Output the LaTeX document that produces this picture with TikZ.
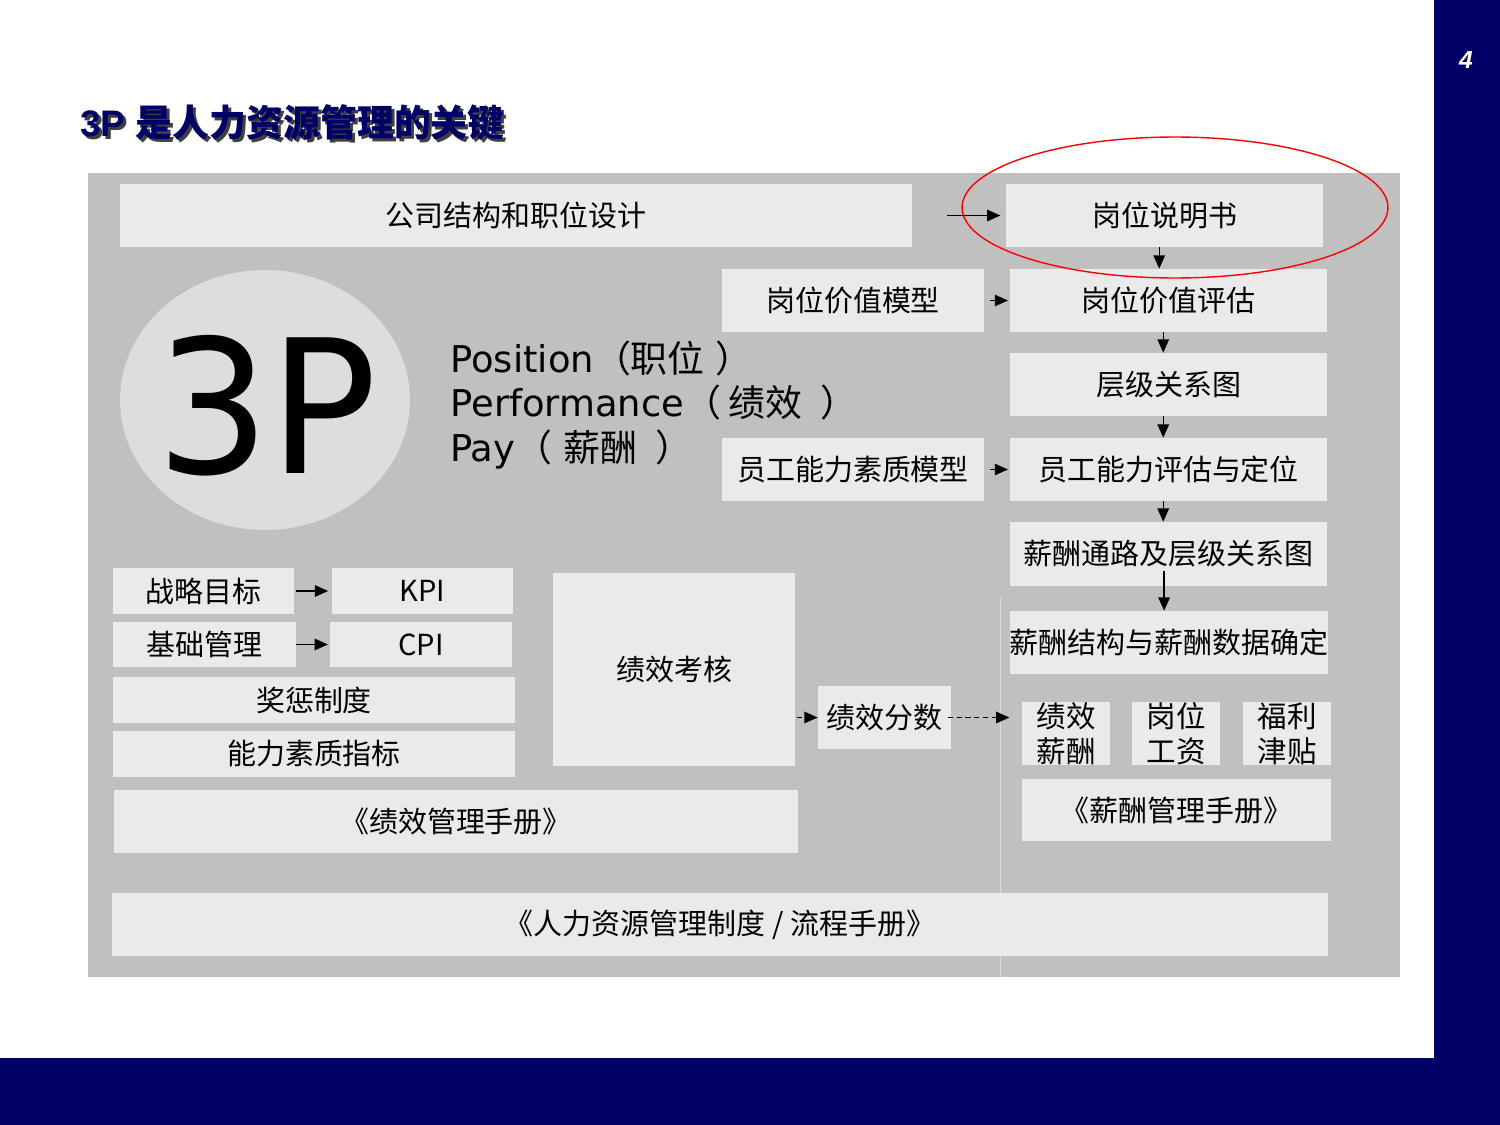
\documentclass[tikz,border=0pt]{standalone}
\usepackage{fontspec}
\setmainfont{DejaVu Sans}
\newfontfamily\cjk{Noto Sans CJK SC}
\newfontfamily\titlefont{Liberation Sans}
\usepackage{tikz}
\usetikzlibrary{arrows.meta,positioning}
\usepackage{xcolor}
\definecolor{navy}{HTML}{000066}
\definecolor{bggray}{HTML}{C0C0C0}
\definecolor{boxgray}{HTML}{EAEAEA}
\definecolor{circgray}{HTML}{DDDDDD}

\begin{document}
\begin{tikzpicture}[
        x=0.02cm, y=-0.02cm,
        every node/.style={font=\cjk\fontsize{16.5}{19.5}\selectfont},
        box/.style={fill=boxgray, inner sep=0pt, minimum height=1.26cm},
        paybox/.style={box, minimum width=1.76cm, align=center,
            font=\cjk\fontsize{16.8}{19.8}\selectfont},
        arr/.style={-{Triangle[length=7.5pt,width=6.5pt]}, line width=0.8pt}
    ]
        \useasboundingbox (0,0) rectangle (1500,1125);

        % page frame - navy bars
        \fill[navy] (1434,0) rectangle (1500,1125);
        \fill[navy] (0,1058) rectangle (1500,1125);
        \node[font=\titlefont\bfseries\itshape\fontsize{14}{16}\selectfont, text=white] (pageno) at (1466,60) {4};

        % title with shadow
        \node[anchor=west, inner sep=0pt, text=black!75, font=\cjk\bfseries\fontsize{21}{24}\selectfont] (titleshadow) at (83,126) {{\titlefont 3P }是人力资源管理的关键};
        \node[anchor=west, inner sep=0pt, text=navy, font=\cjk\bfseries\fontsize{21}{24}\selectfont] (title) at (80,123) {{\titlefont 3P }是人力资源管理的关键};

        % gray panel
        \fill[bggray] (88,173) rectangle (1400,977);
        \draw[line width=0.4pt, black!15] (1000,597) -- (1000,977);

        % 3P circle
        \fill[circgray] (265,400) ellipse (2.9cm and 2.6cm);
        \node[font=\fontsize{106}{110}\selectfont, xscale=0.96] (bigp) at (267,406) {3P};
        \node[anchor=west, inner sep=0pt, align=left, font=\fontsize{21}{25.5}\selectfont] (pdesc) at (450,405)
            {Position{\cjk（职位\hspace{0.3em}）}\\Performance{\cjk（\hspace{0.2em}绩效\hspace{0.5em}）}\\Pay{\cjk（\hspace{0.3em}薪酬\hspace{0.5em}）}};

        % top row
        \node[box, minimum width=15.84cm] (org) at (516,215.5) {公司结构和职位设计};
        \node[box, minimum width=6.34cm] (jd) at (1164.5,215.5) {岗位说明书};

        % position / pay chain on the right
        \node[box, minimum width=5.24cm] (valmodel) at (853,300.5) {岗位价值模型};
        \node[box, minimum width=6.34cm] (valeval) at (1168.5,300.5) {岗位价值评估};
        \node[box, minimum width=6.34cm] (grade) at (1168.5,384.5) {层级关系图};
        \node[box, minimum width=5.24cm] (compmodel) at (853,469.5) {员工能力素质模型};
        \node[box, minimum width=6.34cm] (compeval) at (1168.5,469.5) {员工能力评估与定位};
        \node[box, minimum width=6.34cm, minimum height=1.28cm] (paypath) at (1168.5,554) {薪酬通路及层级关系图};
        \node[box, minimum width=6.36cm] (paystruct) at (1169,642.5) {薪酬结构与薪酬数据确定};

        % pay components
        \node[paybox] (perfpay) at (1066,733.5) {绩效\\薪酬};
        \node[paybox] (basepay) at (1176,733.5) {岗位\\工资};
        \node[paybox] (welfare) at (1287,733.5) {福利\\津贴};
        \node[box, minimum width=6.18cm, minimum height=1.24cm] (paymanual) at (1176.5,810) {《薪酬管理手册》};

        % performance block
        \node[box, minimum width=3.62cm, minimum height=0.92cm] (strategy) at (203.5,591) {战略目标};
        \node[box, minimum width=3.62cm, minimum height=0.92cm] (kpi) at (422.5,590.5) {KPI};
        \node[box, minimum width=3.66cm, minimum height=0.9cm] (basic) at (204.5,644.5) {基础管理};
        \node[box, minimum width=3.64cm, minimum height=0.9cm] (cpi) at (421,644.5) {CPI};
        \node[box, minimum width=8.04cm, minimum height=0.92cm] (reward) at (314,700) {奖惩制度};
        \node[box, minimum width=8.04cm, minimum height=0.92cm] (ability) at (314,754) {能力素质指标};
        \node[box, minimum width=4.84cm, minimum height=3.86cm] (appraisal) at (674,669.5) {绩效考核};
        \node[box, minimum width=2.66cm] (score) at (884.5,717.5) {绩效分数};
        \node[box, minimum width=13.68cm] (perfmanual) at (456,821.5) {《绩效管理手册》};

        % bottom manual
        \node[box, minimum width=24.32cm] (hrmanual) at (720,924.5) {《人力资源管理制度 / 流程手册》};

        % connectors
        \draw[arr, shorten >=3pt] ([xshift=20pt]org.east) -- (jd.west);
        \draw[arr] ([xshift=-3pt]jd.south) -- ([xshift=-3pt]jd.south |- valeval.north);
        \draw[arr] ([xshift=-3pt]valeval.south) -- ([xshift=-3pt]valeval.south |- grade.north);
        \draw[arr] ([xshift=-3pt]grade.south) -- ([xshift=-3pt]grade.south |- compeval.north);
        \draw[arr] ([xshift=-3pt]compeval.south) -- ([xshift=-3pt]compeval.south |- paypath.north);
        \draw[arr] ([xshift=-2.5pt,yshift=9pt]paypath.south) -- ([xshift=-2.5pt]paypath.south |- paystruct.north);
        \draw[arr, shorten <=3.4pt, shorten >=1pt] (valmodel.east) -- (valeval.west);
        \draw[arr, shorten <=3.4pt, shorten >=1pt] (compmodel.east) -- (compeval.west);
        \draw[arr, shorten <=1pt, shorten >=2pt] (strategy.east) -- (kpi.west |- strategy.east);
        \draw[arr, shorten <=0pt, shorten >=1pt] (basic.east) -- (cpi.west);
        \draw[arr, dashed, dash pattern=on 3pt off 2pt, shorten <=1pt] (score.west -| appraisal.east) -- (score.west);
        \draw[arr, dashed, dash pattern=on 3pt off 2pt, shorten <=-2pt, shorten >=7pt] (score.east) -- (score.east -| perfpay.west);

        % highlight
        \draw[red, line width=0.8pt] (1175,207.5) ellipse (4.26cm and 1.41cm);

    \end{tikzpicture}
\end{document}
